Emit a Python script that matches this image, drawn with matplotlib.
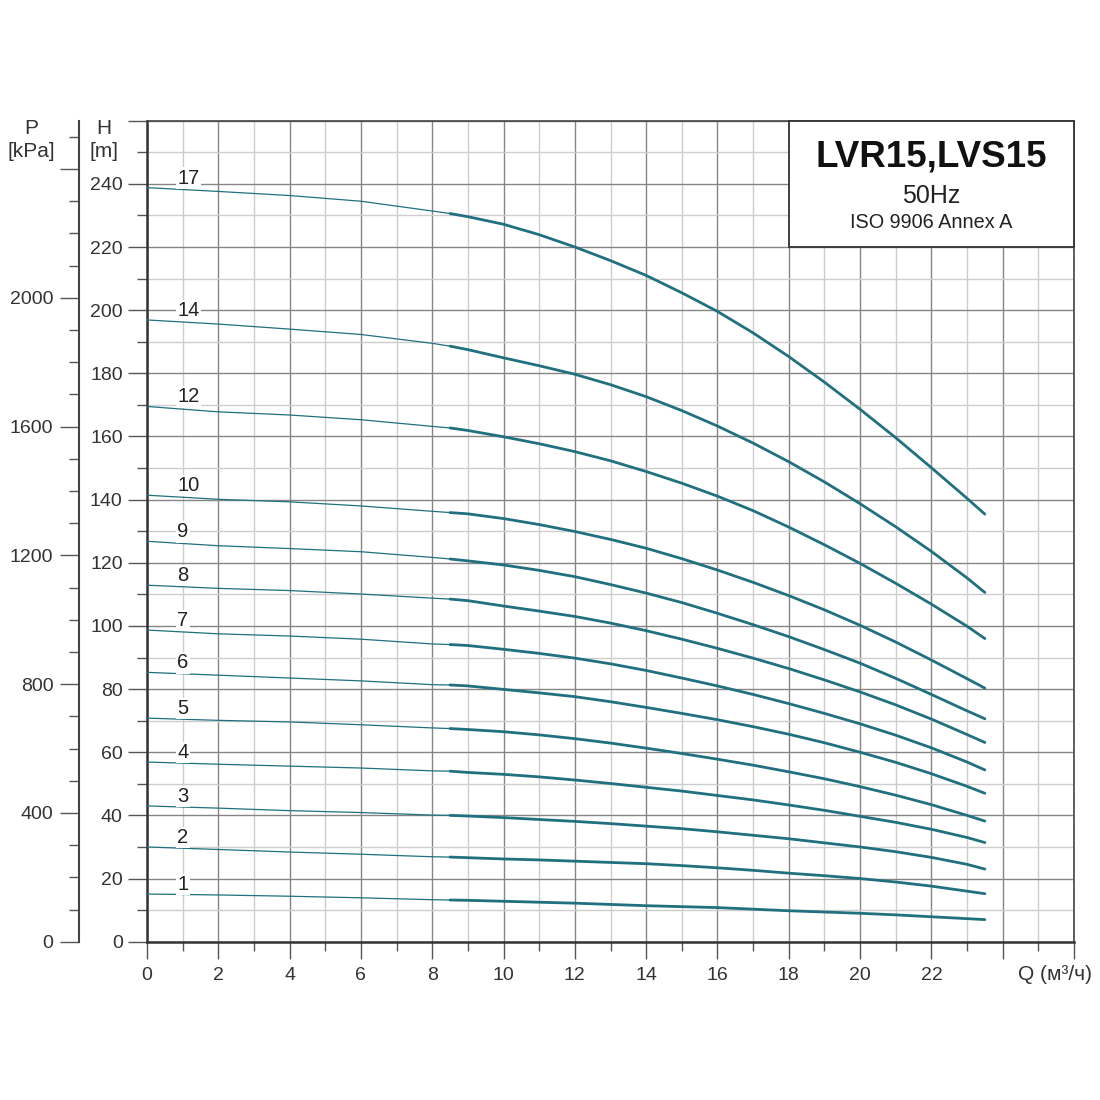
import numpy as np
import matplotlib
matplotlib.use('Agg')
import matplotlib.pyplot as plt
from matplotlib.patches import Rectangle
from matplotlib.ticker import MultipleLocator

plt.rcParams['font.family'] = ['Liberation Sans', 'DejaVu Sans']

# flow points where the curves were read (m3/h)
q_pts = [0, 2, 4, 6, 8, 8.5, 9, 10, 11, 12, 13, 14, 15, 16, 17, 18, 19, 20, 21, 22, 23, 23.5]

# head (m) per number of stages
stages = [17, 14, 12, 10, 9, 8, 7, 6, 5, 4, 3, 2, 1]
h_17 = [238.8, 237.6, 236.3, 234.5, 231.4, 230.6, 229.6, 227.2, 223.9, 220.0, 215.7, 211.0,
        205.5, 199.6, 192.8, 185.3, 177.2, 168.6, 159.6, 150.1, 140.4, 135.4]
h_14 = [196.9, 195.6, 194.0, 192.3, 189.5, 188.6, 187.5, 184.9, 182.4, 179.7, 176.4, 172.6,
        168.2, 163.3, 157.9, 152.0, 145.6, 138.7, 131.4, 123.6, 115.2, 110.6]
h_12 = [169.5, 167.8, 166.8, 165.3, 163.2, 162.7, 161.9, 159.9, 157.7, 155.2, 152.3, 148.9,
        145.2, 141.1, 136.5, 131.3, 125.7, 119.8, 113.5, 106.9, 99.9, 96.0]
h_10 = [141.4, 140.1, 139.3, 138.0, 136.3, 135.9, 135.5, 134.0, 132.1, 129.9, 127.4, 124.6,
        121.3, 117.7, 113.8, 109.6, 105.1, 100.2, 94.9, 89.2, 83.3, 80.3]
h_9 = [126.8, 125.4, 124.5, 123.5, 121.7, 121.2, 120.6, 119.3, 117.6, 115.6, 113.1, 110.4,
       107.4, 104.0, 100.4, 96.6, 92.5, 88.2, 83.4, 78.3, 73.1, 70.6]
h_8 = [112.9, 111.9, 111.2, 110.1, 108.8, 108.5, 108.0, 106.3, 104.7, 103.0, 100.9, 98.5,
       95.8, 92.9, 89.8, 86.5, 82.9, 79.1, 75.0, 70.5, 65.6, 63.1]
h_7 = [98.7, 97.5, 96.8, 95.8, 94.3, 94.1, 93.8, 92.6, 91.3, 89.8, 88.0, 85.9,
       83.5, 81.0, 78.3, 75.4, 72.3, 69.0, 65.4, 61.4, 56.9, 54.4]
h_6 = [85.3, 84.4, 83.5, 82.6, 81.4, 81.3, 81.0, 79.9, 78.8, 77.6, 76.0, 74.2,
       72.3, 70.3, 68.1, 65.7, 63.0, 60.0, 56.8, 53.2, 49.2, 47.0]
h_5 = [70.8, 70.1, 69.6, 68.7, 67.7, 67.5, 67.2, 66.5, 65.5, 64.3, 62.9, 61.3,
       59.6, 57.8, 55.9, 53.8, 51.6, 49.1, 46.4, 43.4, 40.0, 38.2]
h_4 = [56.9, 56.2, 55.6, 55.0, 54.1, 54.0, 53.6, 53.0, 52.2, 51.2, 50.1, 48.9,
       47.7, 46.3, 44.9, 43.3, 41.6, 39.7, 37.8, 35.6, 33.0, 31.4]
h_3 = [43.0, 42.3, 41.5, 40.9, 40.1, 40.0, 39.8, 39.3, 38.7, 38.1, 37.4, 36.6,
       35.8, 34.8, 33.7, 32.6, 31.3, 30.0, 28.5, 26.7, 24.5, 23.0]
h_2 = [30.0, 29.2, 28.4, 27.7, 26.9, 26.8, 26.6, 26.2, 25.9, 25.5, 25.1, 24.7,
       24.1, 23.4, 22.6, 21.7, 20.9, 20.0, 18.9, 17.6, 16.0, 15.2]
h_1 = [15.1, 14.8, 14.4, 13.9, 13.3, 13.2, 13.1, 12.8, 12.5, 12.2, 11.8, 11.4,
       11.1, 10.8, 10.3, 9.8, 9.4, 9.0, 8.5, 7.9, 7.3, 7.0]
heads = [h_17, h_14, h_12, h_10, h_9, h_8, h_7, h_6, h_5, h_4, h_3, h_2, h_1]

q_min_recommended = 8.5

x_ticks = list(range(0, 27, 2))
x_labels = [str(v) if v <= 22 else '' for v in x_ticks]
h_ticks = list(range(0, 261, 20))
h_labels = [str(v) if v <= 240 else '' for v in h_ticks]
p_ticks = list(range(0, 2401, 400))
p_labels = [str(v) if v <= 2000 else '' for v in p_ticks]

curve_color = '#21707f'
W, H = 1100, 1100
fs = 14

fig = plt.figure(figsize=(11, 11), dpi=100)
ax = fig.add_axes([147 / W, 1 - 941.7 / H, 927 / W, 821 / H])
ax.set_xlim(0, 26)
ax.set_ylim(0, 260)

# grid: darker every 2 m3/h and 20 m, lighter in between
ax.set_xticks(x_ticks, x_labels)
ax.set_yticks(h_ticks, h_labels)
ax.xaxis.set_minor_locator(MultipleLocator(1))
ax.yaxis.set_minor_locator(MultipleLocator(10))
ax.grid(which='major', color='#858585', lw=1.0, zorder=0)
ax.grid(which='minor', color='#cdcdcd', lw=1.0, zorder=0)
ax.set_axisbelow(True)

ax.tick_params(axis='x', which='major', length=12, width=1, color='#555',
               labelsize=fs, labelcolor='#333', pad=6.5)
ax.tick_params(axis='x', which='minor', length=6.5, width=1, color='#555')
ax.tick_params(axis='y', which='major', length=13.5, width=1, color='#555',
               labelsize=fs, labelcolor='#333', pad=4)
ax.tick_params(axis='y', which='minor', length=7, width=1, color='#555')

for side in ['left', 'bottom']:
    ax.spines[side].set_linewidth(1.8)
    ax.spines[side].set_color('#333')
for side in ['top', 'right']:
    ax.spines[side].set_linewidth(1.2)
    ax.spines[side].set_color('#444')

# P axis in kPa
sec = ax.secondary_yaxis(-68 / 927, functions=(lambda h: h * 9.80665,
                                               lambda p: p / 9.80665))
sec.set_yticks(p_ticks, p_labels)
sec.yaxis.set_minor_locator(MultipleLocator(100))
sec.tick_params(which='major', length=13.5, width=1, color='#555',
                labelsize=fs, labelcolor='#333', pad=5)
sec.tick_params(which='minor', length=7.5, width=1, color='#555')
sec.spines['left'].set_linewidth(1.5)
sec.spines['left'].set_color('#444')

# pump curves: thin below recommended range, thick inside it
q = np.array(q_pts)
thin = q <= q_min_recommended
thick = q >= q_min_recommended
for n, h in zip(stages, heads):
    h = np.array(h)
    ax.plot(q[thin], h[thin], color=curve_color, lw=0.9, zorder=4,
            solid_capstyle='round', solid_joinstyle='round')
    ax.plot(q[thick], h[thick], color=curve_color, lw=2.0, zorder=4,
            solid_capstyle='round', solid_joinstyle='round')
    ax.text(0.85, h[0] + 3.0, str(n), ha='left', va='center', fontsize=14.5,
            color='#222', zorder=5,
            bbox=dict(facecolor='white', edgecolor='none', pad=0.8))

# title box
ax.add_patch(Rectangle((18, 220), 8, 40, facecolor='white', edgecolor='#333',
                       lw=1.3, zorder=6, clip_on=False))
ax.text(22, 248.6, 'LVR15,LVS15', ha='center', va='center', fontsize=26.5,
        fontweight='bold', color='#111', zorder=7)
ax.text(22, 236.3, '50Hz', ha='center', va='center', fontsize=18,
        color='#222', zorder=7)
ax.text(22, 227.8, 'ISO 9906 Annex A', ha='center', va='center', fontsize=14.3,
        color='#222', zorder=7)

# axis captions
fig.text(104 / W, 1 - 140 / H, 'H\n[m]', ha='center', va='center',
         fontsize=15, color='#333', linespacing=1.25)
fig.text(31 / W, 1 - 140 / H, 'P\n[kPa]', ha='center', va='center',
         fontsize=15, color='#333', linespacing=1.25)
fig.text(1055 / W, 1 - 975 / H, 'Q (м³/ч)', ha='center', va='center',
         fontsize=15, color='#333')

fig.savefig('out.png', dpi=100, facecolor='white')
